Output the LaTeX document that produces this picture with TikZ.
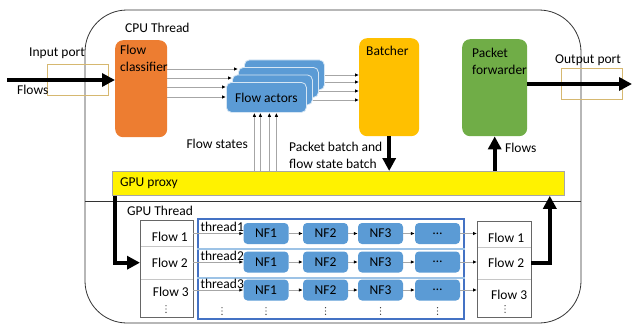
\documentclass[tikz,border=0pt]{standalone}
\usepackage{fontspec}
\setmainfont{Carlito}
\usepackage{tikz}
\usetikzlibrary{positioning}
\usetikzlibrary{calc}
\usetikzlibrary{arrows.meta}
\definecolor{clsorange}{HTML}{ED7D31}
\definecolor{batgold}{HTML}{FFC000}
\definecolor{fwdgreen}{HTML}{70AD47}
\definecolor{actblue}{HTML}{5B9BD5}
\definecolor{frameblue}{HTML}{4472C4}
\definecolor{rowblue}{HTML}{9DC3E6}
\definecolor{portedge}{HTML}{D6B870}
\definecolor{linegray}{HTML}{A6A6A6}
\tikzset{>=latex}

\begin{document}
\begin{tikzpicture}[x=1pt, y=-1pt,
  font=\fontsize{13.5}{17}\selectfont,
  box/.style={anchor=north west, inner sep=0, rounded corners=8pt},
  txt/.style={inner sep=0, anchor=west},
  thinarr/.style={draw=linegray, line width=0.8pt, -{Latex[length=4pt,width=3.5pt,color=black]}},
  bigarr/.style={line width=4pt, -{Triangle[length=13pt,width=13pt]}},
  cell/.style={draw=gray!45, anchor=north west, minimum width=53pt, inner sep=0},
  nfbox/.style={fill=actblue, rounded corners=4pt, minimum width=45pt, minimum height=21pt, inner sep=0},
  vdotspic/.pic={\foreach \j in {-1,0,1} \fill[black!80] (0,3.3*\j) circle (0.7pt);}
]
\useasboundingbox (0,0) rectangle (632,324);

% Outer frame and CPU/GPU divider
\draw[black!80, line width=0.8pt, rounded corners=42pt] (85,10) rectangle (581,323);
\draw[black!80, line width=0.8pt] (85,201) -- (581,201);

% Ports
\node[box, rounded corners=0, draw=portedge, line width=1pt, minimum width=61pt, minimum height=31pt] (inport) at (47,64) {};
\node[txt] (inportlbl) at (29,53) {Input port};
\node[box, rounded corners=0, draw=portedge, line width=1pt, minimum width=61pt, minimum height=31pt] (outport) at (561,68) {};
\node[txt] (outportlbl) at (555,60) {Output port};

% CPU thread
\node[txt] (cpulbl) at (125,28) {CPU Thread};
\node[box, fill=clsorange, minimum width=52pt, minimum height=97pt] (cls) at (115,40) {};
\node[txt, anchor=north west, align=left] (clslbl) at (120,45) {Flow\\classifier};
\node[box, fill=batgold, minimum width=60pt, minimum height=98pt] (bat) at (359,38) {};
\node[txt, anchor=north west] (batlbl) at (366,46) {Batcher};
\node[box, fill=fwdgreen, minimum width=65pt, minimum height=97pt] (pf) at (462,39) {};
\node[txt, anchor=north west, align=left] (pflbl) at (472,48) {Packet\\forwarder};

% Flow actors (stacked)
\foreach \k in {3,2,1,0}
  \node[box, rounded corners=5pt, fill=actblue, draw=white!75!actblue, line width=0.8pt,
        minimum width=80pt, minimum height=30pt] (act\k) at (226+6*\k, 82-7.5*\k) {};
\node (actlbl) at (act0.center) {Flow actors};

\foreach \y/\a in {69/act2, 78/act1, 87/act0, 97/act0}
  \draw[thinarr] (cls.east |- 0,\y) -- (\a.west |- 0,\y);
\foreach \y/\a in {75/act3, 82/act3, 91/act2, 100/act1}
  \draw[thinarr] (\a.east |- 0,\y) -- (bat.west |- 0,\y);

% GPU proxy
\node[box, rounded corners=0, fill=yellow, draw=gray!70, line width=0.8pt, minimum width=452pt, minimum height=24pt] (gpu) at (112,171) {};
\node[txt] (gpulbl) at (120,183) {GPU proxy};

\foreach \dx in {-12,-6,3,10}
  \draw[thinarr] ([xshift=\dx pt]act0.south |- gpu.north) -- ([xshift=\dx pt]act0.south);
\node[txt, anchor=east] (fslbl) at (248,144) {Flow states};
\node[txt, anchor=north west, align=left] (pblbl) at (289,142) {Packet batch and\\flow state batch};
\node[txt] (flowsup) at (505,148) {Flows};

\draw[bigarr] (bat.south) -- (bat.south |- gpu.north);
\draw[bigarr] (pf.south |- gpu.north) -- (pf.south);

% In and out
\coordinate (flowsin) at (7,80);
\draw[bigarr] (flowsin) -- (flowsin -| cls.west);
\node[txt] (flowsinlbl) at (17,90) {Flows};
\coordinate (flowsout) at (632,84);
\draw[bigarr] (pf.east |- flowsout) -- (flowsout);

% GPU thread
\node[txt] (gputhrlbl) at (127,211) {GPU Thread};
\node[box, rounded corners=0, draw=frameblue, line width=1.6pt, minimum width=266pt, minimum height=100pt] (nfframe) at (197,218) {};
\draw[rowblue, line width=1.5pt] (nfframe.west |- 0,249) -- (nfframe.east |- 0,249);
\draw[rowblue, line width=1.5pt] (nfframe.west |- 0,278) -- (nfframe.east |- 0,278);

% Flow tables
\node[cell, minimum height=26pt] (fin1) at (140,220) {};
\node[cell, minimum height=33pt] (fin2) at (140,246) {};
\node[cell, minimum height=38pt] (fin3) at (140,279) {};
\draw[gray!80!black, line width=0.8pt] (fin1.north west) rectangle (fin3.south east);
\node[txt, anchor=east] (fin1lbl) at (188,237) {Flow 1};
\node[txt, anchor=east] (fin2lbl) at (188,263) {Flow 2};
\node[txt, anchor=east] (fin3lbl) at (189,292) {Flow 3};
\pic at (166,309) {vdotspic};

\node[cell, minimum width=54pt, minimum height=26pt] (fout1) at (477,221) {};
\node[cell, minimum width=54pt, minimum height=32pt] (fout2) at (477,247) {};
\node[cell, minimum width=54pt, minimum height=38pt] (fout3) at (477,279) {};
\draw[gray!80!black, line width=0.8pt] (fout1.north west) rectangle (fout3.south east);
\node[txt] (fout1lbl) at (488,238) {Flow 1};
\node[txt] (fout2lbl) at (488,263) {Flow 2};
\node[txt] (fout3lbl) at (491,295) {Flow 3};
\pic at (505,309) {vdotspic};

% NF chains
\foreach \r/\ny in {1/233.5, 2/262, 3/290} {
  \foreach \c/\nx/\t in {1/266/NF1, 2/325.5/NF2, 3/380.5/NF3, 4/437.5/\dots}
    \node[nfbox] (nf\r\c) at (\nx,\ny) {\t};
  \draw[thinarr] (fin\r.east |- nf\r1.west) -- (nf\r1.west);
  \draw[thinarr] (nf\r1) -- (nf\r2);
  \draw[thinarr] (nf\r2) -- (nf\r3);
  \draw[thinarr] (nf\r3) -- (nf\r4);
  \draw[thinarr] (nf\r4.east) -- (nf\r4.east -| fout\r.west);
  \node[anchor=base west, inner sep=0, xshift=7pt, yshift=2pt] (thr\r) at (fin\r.east |- nf\r1.west) {thread\r};
}
\foreach \nx in {222, 266, 325.5, 380.5, 437.5}
  \pic at (\nx,311) {vdotspic};

\draw[bigarr] ([xshift=3pt]gpu.south west) |- (fin2.west);
\draw[bigarr] (fout2.east) -| ([xshift=-15pt]gpu.south east);

\end{tikzpicture}
\end{document}
